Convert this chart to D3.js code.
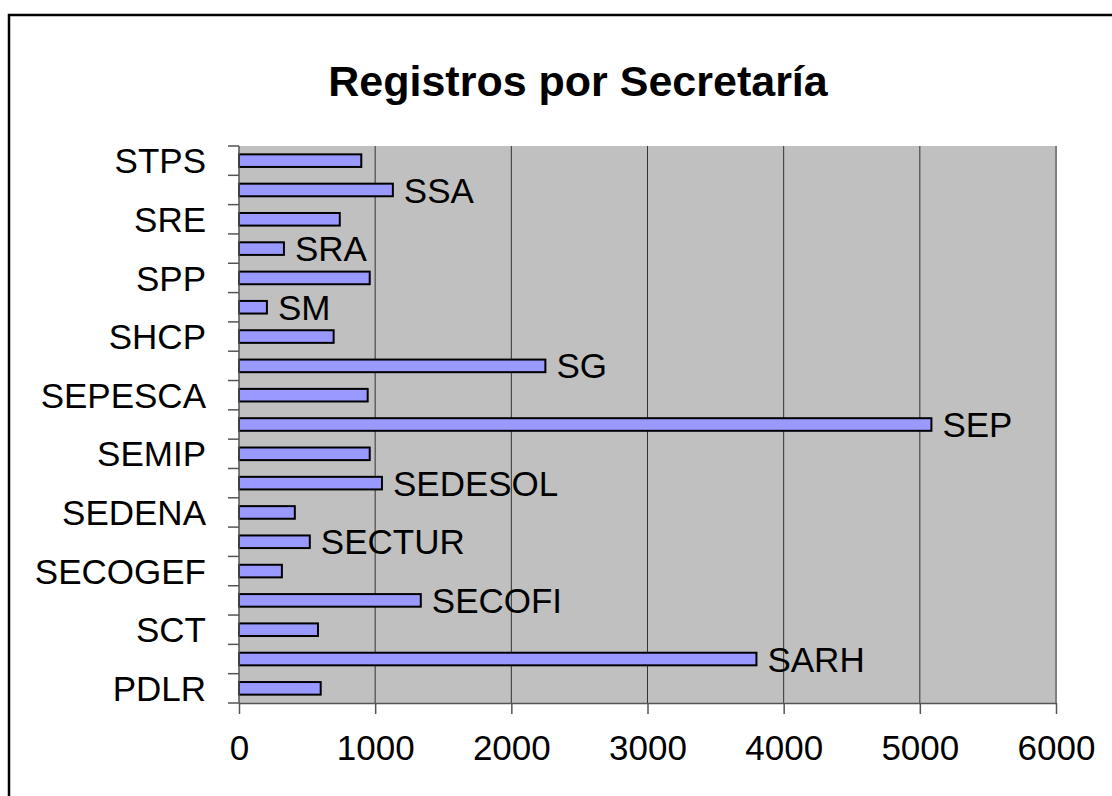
<!DOCTYPE html>
<html>
<head>
<meta charset="utf-8">
<script src="https://cdn.jsdelivr.net/npm/d3@7"></script>
<style>
    body { margin: 0; background: #fff; }
    text { font-family: "Liberation Sans", Arial, sans-serif; fill: #000; }
</style>
</head>
<body>
<div id="chart"></div>
<script>
// categories bottom to top, as in the original sheet
const secretarias = ["PDLR", "SARH", "SCT", "SECOFI", "SECOGEF", "SECTUR", "SEDENA", "SEDESOL", "SEMIP",
    "SEP", "SEPESCA", "SG", "SHCP", "SM", "SPP", "SRA", "SRE", "SSA", "STPS"];
const registros = [600, 3800, 580, 1335, 315, 520, 410, 1050, 960,
    5085, 945, 2250, 695, 205, 960, 330, 740, 1130, 898];
const xTicks = [0, 1000, 2000, 3000, 4000, 5000, 6000];

const width = 1112, height = 796;
const margin = { left: 239, right: 1056, top: 146, bottom: 703 };

const svg = d3.select("#chart").append("svg")
    .attr("width", width)
    .attr("height", height);

// chart area border (runs past the picture edge)
svg.append("rect")
    .attr("x", 9).attr("y", 15)
    .attr("width", 1200).attr("height", 900)
    .attr("fill", "none")
    .attr("stroke", "#000")
    .attr("stroke-width", 2.5);

svg.append("text")
    .attr("x", 578).attr("y", 96)
    .attr("text-anchor", "middle")
    .style("font-size", "43px")
    .style("font-weight", "bold")
    .text("Registros por Secretaría");

const data = secretarias.map((s, i) => ({ name: s, value: registros[i], idx: i }));

const x = d3.scaleLinear().domain([0, 6000]).range([margin.left, margin.right]);
const y = d3.scaleBand()
    .domain(secretarias.slice().reverse())
    .range([margin.top, margin.bottom])
    .paddingInner(0.57).paddingOuter(0.285);

// plot background
svg.append("rect")
    .attr("x", margin.left).attr("y", margin.top)
    .attr("width", margin.right - margin.left)
    .attr("height", margin.bottom - margin.top)
    .attr("fill", "#c0c0c0");

// gridlines
svg.append("g")
    .selectAll("line")
    .data(xTicks.slice(1, -1))
    .enter().append("line")
    .attr("x1", d => x(d)).attr("x2", d => x(d))
    .attr("y1", margin.top).attr("y2", margin.bottom)
    .attr("stroke", "#333")
    .attr("stroke-width", 1);

// right border of plot
svg.append("line")
    .attr("x1", margin.right).attr("x2", margin.right)
    .attr("y1", margin.top).attr("y2", margin.bottom)
    .attr("stroke", "#808080")
    .attr("stroke-width", 2);

// bars
svg.append("g")
    .selectAll("rect")
    .data(data)
    .enter().append("rect")
    .attr("x", x(0))
    .attr("y", d => y(d.name))
    .attr("width", d => x(d.value) - x(0))
    .attr("height", y.bandwidth())
    .attr("fill", "#9999ff")
    .attr("stroke", "#000")
    .attr("stroke-width", 2);

// data labels on every other bar
svg.append("g")
    .selectAll("text")
    .data(data.filter(d => d.idx % 2 == 1))
    .enter().append("text")
    .attr("x", d => x(d.value) + 11)
    .attr("y", d => y(d.name) + y.bandwidth() / 2)
    .attr("dy", "0.36em")
    .style("font-size", "35px")
    .text(d => d.name);

// y axis: ticks at band boundaries, every other category labelled
const step = y.step();
const boundaries = d3.range(secretarias.length + 1).map(i => margin.top + i * step);
const yAxis = svg.append("g");
yAxis.append("line")
    .attr("x1", margin.left).attr("x2", margin.left)
    .attr("y1", margin.top).attr("y2", margin.bottom)
    .attr("stroke", "#555").attr("stroke-width", 1.5);
yAxis.selectAll(".tick")
    .data(boundaries)
    .enter().append("line")
    .attr("x1", margin.left - 11).attr("x2", margin.left)
    .attr("y1", d => d).attr("y2", d => d)
    .attr("stroke", "#555").attr("stroke-width", 1.5);
yAxis.selectAll("text")
    .data(data.filter(d => d.idx % 2 == 0))
    .enter().append("text")
    .attr("x", 206)
    .attr("y", d => y(d.name) + y.bandwidth() / 2)
    .attr("dy", "0.36em")
    .attr("text-anchor", "end")
    .style("font-size", "35px")
    .text(d => d.name);

// x axis
const xAxis = svg.append("g")
    .attr("transform", `translate(0,${margin.bottom})`)
    .call(d3.axisBottom(x).tickValues(xTicks).tickFormat(d3.format("d"))
        .tickSize(11).tickPadding(21).tickSizeOuter(0));
xAxis.select(".domain").attr("stroke", "#555").attr("stroke-width", 1.5);
xAxis.selectAll(".tick line").attr("stroke", "#555").attr("stroke-width", 1.5);
xAxis.selectAll(".tick text")
    .style("font-size", "35px")
    .style("font-family", "Liberation Sans, Arial, sans-serif");
</script>
</body>
</html>
